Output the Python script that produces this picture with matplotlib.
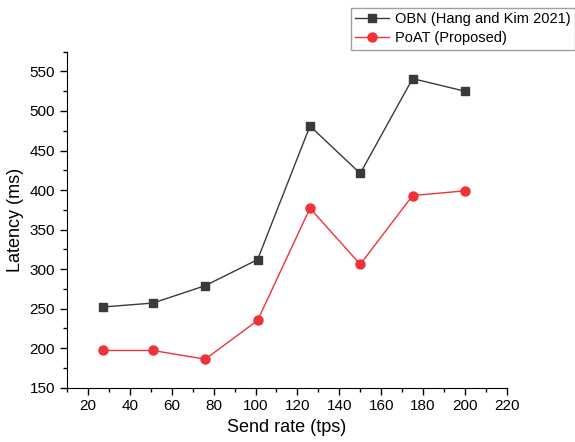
import matplotlib
matplotlib.use('Agg')
import matplotlib.pyplot as plt
from matplotlib.ticker import MultipleLocator

plt.rcParams['font.family'] = ['Liberation Sans', 'DejaVu Sans']

send_rate = [27, 51, 76, 101, 126, 150, 175, 200]
obn_latency = [252, 257, 279, 312, 481, 421, 541, 525]
poat_latency = [197, 197, 186, 235, 377, 306, 393, 399]

fig = plt.figure(figsize=(5.75, 4.42), dpi=100)
ax = fig.add_axes([0.1165, 0.123, 0.765, 0.76])

ax.plot(send_rate, obn_latency, color='#3a3a3a', marker='s', markersize=6,
        linewidth=1.0, label='OBN (Hang and Kim 2021)')
ax.plot(send_rate, poat_latency, color='#ee3338', marker='o', markersize=6.5,
        linewidth=1.0, label='PoAT (Proposed)')

ax.set_xlim(10, 220)
ax.set_ylim(150, 575)
ax.xaxis.set_major_locator(MultipleLocator(20))
ax.xaxis.set_minor_locator(MultipleLocator(10))
ax.yaxis.set_major_locator(MultipleLocator(50))
ax.yaxis.set_minor_locator(MultipleLocator(25))
ax.set_xticks(range(20, 221, 20))
ax.tick_params(which='major', direction='out', length=5, width=1, labelsize=11)
ax.tick_params(which='minor', direction='out', length=3, width=1)

ax.spines['top'].set_visible(False)
ax.spines['right'].set_visible(False)

ax.set_xlabel('Send rate (tps)', fontsize=13)
ax.set_ylabel('Latency (ms)', fontsize=13)

fig.legend(loc='upper left', bbox_to_anchor=(351 / 575, 1 - 8 / 442), fontsize=10.5,
           frameon=True, fancybox=False, edgecolor='#888888',
           handlelength=2.3, handletextpad=0.4, borderpad=0.3, labelspacing=0.35,
           borderaxespad=0)

fig.savefig('out.png', dpi=100)
